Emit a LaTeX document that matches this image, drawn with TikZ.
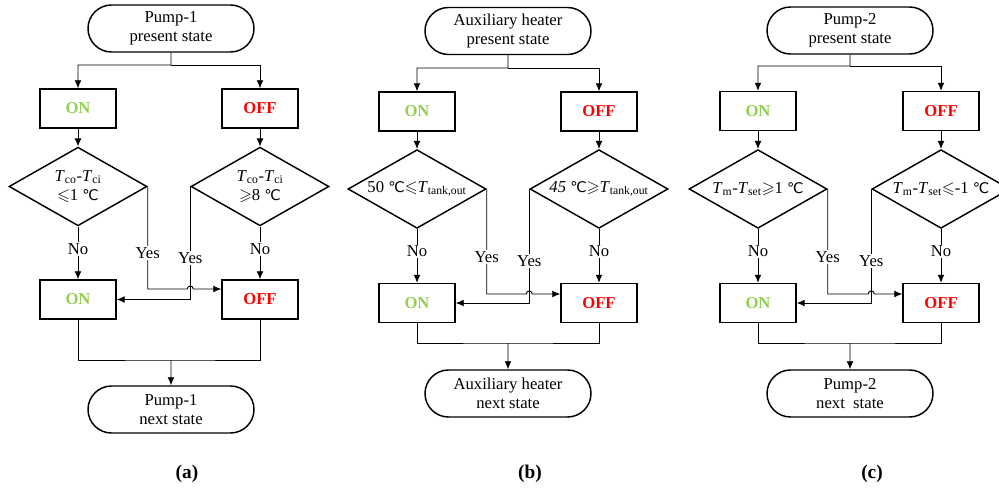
\documentclass[tikz,border=0pt]{standalone}
\usepackage{amssymb}
\usepackage{fontspec}
\setmainfont{Liberation Serif}
\newfontfamily\celsiusfont{DejaVu Sans}
\usetikzlibrary{arrows.meta,shapes.geometric,shapes.misc,calc}
\definecolor{ongreen}{RGB}{146,208,80}
\definecolor{offred}{RGB}{255,0,0}
\newcommand{\figfont}{\fontsize{12.5}{14.5}\selectfont}
\newcommand{\degC}{{\celsiusfont\fontsize{11}{12}\selectfont ℃}}
\newcommand{\Tsub}[1]{\textit{T}\textsubscript{#1}}
\tikzstyle{terminal}=[rounded rectangle,draw,line width=1.1pt,minimum width=124.5pt,minimum height=35.25pt,inner sep=0pt,align=center]
\tikzstyle{state}=[rectangle,draw,line width=1.1pt,minimum width=57pt,minimum height=29.25pt,font={\figfont\bfseries}]
\tikzstyle{decision}=[diamond,draw,line width=1.1pt,minimum width=103.5pt,minimum height=59pt,inner sep=0pt]
\tikzstyle{edge}=[draw,line width=0.7pt,->]
\tikzstyle{line}=[draw,line width=0.7pt]
\tikzstyle{answer}=[fill=white,inner sep=1pt]
\tikzstyle{caption}=[font={\fontsize{14.5}{16}\selectfont\bfseries}]

\begin{document}
\begin{tikzpicture}[x=0.75pt,y=-0.75pt,>={Latex[length=6pt,width=5.2pt]},every node/.style={font=\figfont}]
\useasboundingbox (0,0) rectangle (999,488);

% First we draw the terminals
\node[terminal] (tA) at (171,28.5) {Pump-1\\present state};
\node[terminal] (tB) at (508,31) {Auxiliary heater\\present state};
\node[terminal] (tC) at (850,30.5) {Pump-2\\present state};
\node[terminal] (eA) at (171,409.5) {Pump-1\\next state};
\node[terminal] (eB) at (508,393.5) {Auxiliary heater\\next state};
\node[terminal] (eC) at (850,393.5) {Pump-2\\next\ \ state};

% ON and OFF boxes
\foreach \pos/\name in {{(78,108.5)/onA1}, {(78,299.5)/onA2}, {(417,111.5)/onB1},
                        {(417,303)/onB2}, {(758,111)/onC1}, {(758,303)/onC2}}
\node[state,text=ongreen] (\name) at \pos {ON};
\foreach \pos/\name in {{(260,108.5)/offA1}, {(260,299.5)/offA2}, {(599,111.5)/offB1},
                        {(599,303)/offB2}, {(941,111)/offC1}, {(941,303)/offC2}}
\node[state,text=offred] (\name) at \pos {OFF};

% The decisions
\node[decision,label={[align=center]center:\Tsub{co}-\Tsub{ci}\\$\leqslant$1 \degC}] (dA1) at (78,186.5) {};
\node[decision,label={[align=center]center:\Tsub{co}-\Tsub{ci}\\$\geqslant$8 \degC}] (dA2) at (260,186.5) {};
\node[decision,label={center:50 \degC$\leqslant$\Tsub{tank,out}}] (dB1) at (417,189) {};
\node[decision,label={center:\textit{45} \degC$\geqslant$\Tsub{tank,out}}] (dB2) at (599,189) {};
\node[decision,label={center:\Tsub{m}-\Tsub{set}$\geqslant$1 \degC}] (dC1) at (758,189) {};
\node[decision,label={center:\Tsub{m}-\Tsub{set}$\leqslant$-1 \degC}] (dC2) at (941,189) {};

% Split, join and Yes levels
\coordinate (hA) at (171,65);  \coordinate (jA) at (171,360); \coordinate (yA) at (0,289);
\coordinate (hB) at (508,68);  \coordinate (jB) at (508,343); \coordinate (yB) at (0,294);
\coordinate (hC) at (850,66);  \coordinate (jC) at (850,343); \coordinate (yC) at (0,294);

% Connect everything
\foreach \p in {A,B,C}{
  \path[edge] (t\p) -- (h\p) -| (on\p1);
  \path[edge] (h\p) -| (off\p1);
  \path[edge] (on\p1) -- (d\p1);
  \path[edge] (off\p1) -- (d\p2);
  \path[edge] (d\p1) -- node[answer,pos=0.42] {No} (on\p2);
  \path[edge] (d\p2) -- node[answer,pos=0.42] {No} (off\p2);
  \path[edge] (d\p1.east) -- node[answer,pos=0.65] {Yes} (d\p1.east |- y\p)
    -- ($(d\p2.west |- y\p)+(-3,0)$) arc[start angle=180,end angle=0,radius=2.25pt]
    -- (off\p2.west |- y\p);
  \path[edge] (d\p2.west) -- node[answer,pos=0.63] {Yes} (d\p2.west |- on\p2) -- (on\p2);
  \path[line] (on\p2) |- (j\p) -| (off\p2);
  \path[edge] (j\p) -- (e\p);
}

% Captions
\node[caption] (capA) at (187,474) {(a)};
\node[caption] (capB) at (530,474) {(b)};
\node[caption] (capC) at (872,474) {(c)};
\end{tikzpicture}
\end{document}
